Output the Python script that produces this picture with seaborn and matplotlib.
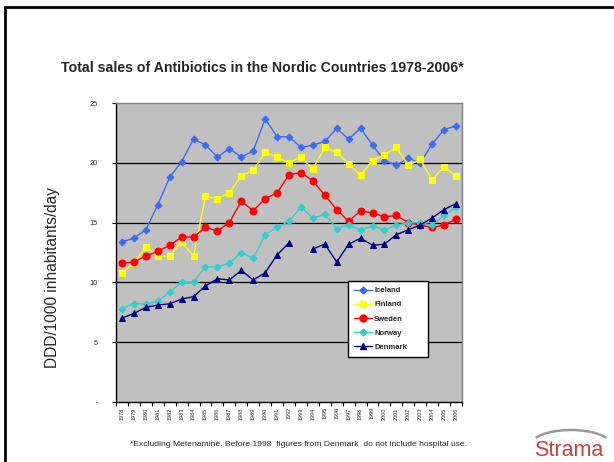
import numpy as np
import pandas as pd
import matplotlib
matplotlib.use("Agg")
import matplotlib.pyplot as plt
from matplotlib.lines import Line2D
from matplotlib.patches import Rectangle, Arc
import seaborn as sns

# values (DDD/1000 inhabitants/day)
years = list(range(1978, 2007))
iceland = [13.4, 13.7, 14.4, 16.5, 18.8, 20.1, 22.0, 21.5, 20.5, 21.2, 20.5, 21.0, 23.7, 22.2, 22.2,
           21.3, 21.5, 21.8, 22.9, 22.0, 22.9, 21.5, 20.2, 19.8, 20.4, 20.0, 21.6, 22.8, 23.1]
finland = [10.8, 11.6, 13.0, 12.2, 12.2, 13.4, 12.2, 17.2, 17.0, 17.5, 18.9, 19.4, 20.9, 20.5, 20.0,
           20.5, 19.5, 21.3, 20.9, 19.9, 19.0, 20.2, 20.7, 21.3, 19.8, 20.3, 18.6, 19.7, 18.9]
sweden = [11.6, 11.7, 12.2, 12.6, 13.1, 13.8, 13.8, 14.6, 14.3, 15.0, 16.8, 16.0, 17.0, 17.5, 19.0,
          19.2, 18.5, 17.3, 16.1, 15.1, 16.0, 15.8, 15.5, 15.6, 15.0, 14.8, 14.6, 14.8, 15.3]
norway = [7.8, 8.2, 8.2, 8.4, 9.2, 10.0, 10.0, 11.3, 11.3, 11.6, 12.5, 12.0, 14.0, 14.6, 15.1,
          16.3, 15.4, 15.7, 14.5, 14.8, 14.4, 14.7, 14.4, 14.8, 15.0, 15.0, 14.8, 15.6, 16.3]
denmark = [7.0, 7.4, 7.9, 8.1, 8.2, 8.6, 8.8, 9.7, 10.3, 10.2, 11.0, 10.2, 10.8, 12.3, 13.3,
           np.nan, 12.8, 13.2, 11.7, 13.2, 13.7, 13.1, 13.2, 14.0, 14.4, 14.8, 15.4, 16.1, 16.6]

countries = ["Iceland", "Finland", "Sweden", "Norway", "Denmark"]
series = [iceland, finland, sweden, norway, denmark]
colors = ["#3A6BF0", "#FFFF00", "#FF0000", "#33CCCC", "#000080"]
markers = ["D", "s", "o", "D", "^"]
msizes = [3.5, 5, 5, 3.5, 5]

yticks = [0, 5, 10, 15, 20, 25]
ytick_labels = ["-", "5", "10", "15", "20", "25"]

sns.set_style("white")
plt.rcParams["font.family"] = ["Liberation Sans", "DejaVu Sans"]

fig = plt.figure(figsize=(6.14, 4.62), dpi=100)
ax = fig.add_axes([116 / 614, 1 - 401.7 / 462, 346 / 614, 298.4 / 462])
ax.set_facecolor("#C0C0C0")

for name, vals, c, m, ms in zip(countries, series, colors, markers, msizes):
    df = pd.DataFrame({"year": years, "value": vals})
    df["seg"] = df["value"].isna().cumsum()
    df = df.dropna()
    sns.lineplot(data=df, x="year", y="value", units="seg", estimator=None,
                 color=c, marker=m, markersize=ms, markeredgecolor=c,
                 linewidth=1, ax=ax, legend=False)

ax.set_xlim(1977.5, 2006.5)
ax.set_ylim(0, 25)
ax.set_yticks(yticks)
ax.set_yticklabels(ytick_labels, fontsize=5.3, color="#333333")
ax.set_xticks(years)
ax.set_xticklabels([str(y) for y in years], rotation=90, fontsize=4, color="#333333")
ax.set_xticks(np.arange(1977.5, 2007, 1), minor=True)
ax.tick_params(axis="x", which="major", length=0, pad=4)
ax.tick_params(axis="x", which="minor", length=3, width=0.8, color="black", direction="out", bottom=True)
ax.tick_params(axis="y", length=3, width=0.8, color="black", direction="out", left=True, pad=10)
for yv in yticks[1:-1]:
    ax.axhline(yv, color="black", linewidth=0.9, zorder=0.5)
ax.set_xlabel("")
ax.set_ylabel("")

for side in ["left", "bottom"]:
    ax.spines[side].set_color("black")
    ax.spines[side].set_linewidth(1)
for side in ["top", "right"]:
    ax.spines[side].set_color("#808080")
    ax.spines[side].set_linewidth(1)

handles = [Line2D([0], [0], color=c, marker=m, markersize=ms, markeredgecolor=c, linewidth=1)
           for c, m, ms in zip(colors, markers, msizes)]
leg = ax.legend(handles, countries, loc="lower left",
                bbox_to_anchor=(0.671, 0.149, 0.231, 0.24), mode="expand",
                borderaxespad=0, fancybox=False, framealpha=1, edgecolor="black",
                prop={"size": 5.5, "weight": "bold"}, labelspacing=0.9,
                handlelength=2.3, handletextpad=0.3, borderpad=0.8)
leg.get_frame().set_linewidth(1)
leg.set_zorder(5)

fig.text(262 / 614, 1 - 68 / 462, "Total sales of Antibiotics in the Nordic Countries 1978-2006*",
         ha="center", va="center", fontsize=10.2, fontweight="bold")
fig.text(53 / 614, 1 - 278 / 462, "DDD/1000 inhabitants/day", rotation=90,
         ha="center", va="center", fontsize=11.2)
fig.text(298 / 614, 1 - 444 / 462,
         "*Excluding Metenamine. Before 1998  figures from Denmark  do not include hospital use.",
         ha="center", va="center", fontsize=6.1)

# slide frame and logo
fig.patches.append(Rectangle((5 / 614, -0.1), 1.2, 1.085, transform=fig.transFigure,
                             fill=False, edgecolor="black", linewidth=2))
fig.patches.append(Arc((571 / 614, 1 - 445 / 462), 80 / 614, 30 / 462, theta1=15, theta2=165,
                       transform=fig.transFigure, color="#999999", linewidth=1.8))
fig.text(534 / 614, 1 - 456 / 462, "Strama", ha="left", va="baseline",
         fontsize=15.5, color="#C8413A")

fig.savefig("out.png", dpi=100)
